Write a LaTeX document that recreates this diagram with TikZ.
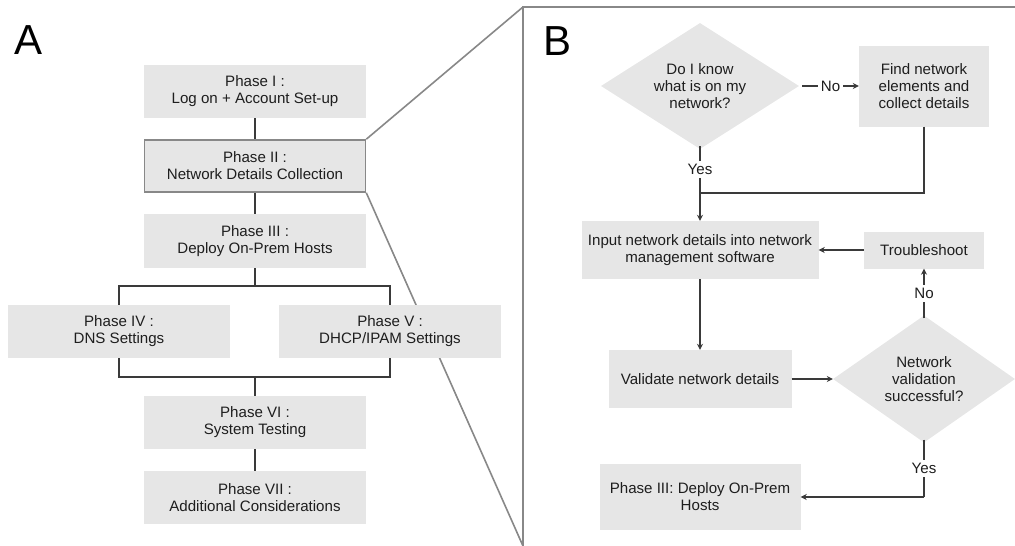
\documentclass[tikz,border=0pt]{standalone}
\usepackage{fontspec}
\setmainfont{Liberation Sans}
\usetikzlibrary{shapes.geometric,arrows.meta}
\pgfdeclarelayer{bg}
\pgfsetlayers{bg,main}
\definecolor{boxfill}{HTML}{E6E6E6}
\definecolor{linec}{HTML}{3A3A3A}
\definecolor{zoomc}{HTML}{888888}
\definecolor{txt}{HTML}{1E1E1E}
\tikzset{
  every node/.style={text=txt,font=\fontsize{15.1}{17}\selectfont},
  phbox/.style={rectangle,fill=boxfill,inner sep=0pt,align=center},
  dia/.style={diamond,aspect=1.57,fill=boxfill,inner sep=0pt,align=center},
  conn/.style={draw=linec,line width=1.5pt},
  arr/.style={draw=linec,line width=1.5pt,-{Stealth[length=6pt,width=6pt]}},
  lab/.style={fill=white,inner sep=3pt},
  zoomline/.style={draw=zoomc,line width=1.6pt},
  panel/.style={font=\fontsize{42}{42}\selectfont,text=black}
}
\begin{document}
\begin{tikzpicture}[x=1pt,y=-1pt]
\useasboundingbox (0,0) rectangle (1015,546);
% Panel A
\node[panel] (labA) at (29,40) {A};
\node[phbox,minimum width=222,minimum height=53] (p1) at (255,91.5) {Phase I :\\Log on + Account Set-up};
\node[phbox,minimum width=221,minimum height=52,draw=zoomc,line width=1.6pt] (p2) at (255,166) {Phase II :\\Network Details Collection};
\node[phbox,minimum width=222,minimum height=54] (p3) at (255,241) {Phase III :\\Deploy On-Prem Hosts};
\node[phbox,minimum width=222,minimum height=53] (p4) at (119,331.5) {Phase IV :\\DNS Settings};
\node[phbox,minimum width=222,minimum height=53] (p5) at (390,331.5) {Phase V :\\DHCP/IPAM Settings};
\node[phbox,minimum width=222,minimum height=53] (p6) at (255,422.5) {Phase VI :\\System Testing};
\node[phbox,minimum width=222,minimum height=53] (p7) at (255,497.5) {Phase VII :\\Additional Considerations};
\coordinate (j1) at (255,286);
\coordinate (j2) at (255,377);
\draw[conn] (p1) -- (p2);
\draw[conn] (p2) -- (p3);
\draw[conn] (p3) -- (j1);
\draw[conn] (p4.north) |- (j1) -| (p5.north);
\draw[conn] (p4.south) |- (j2) -| (p5.south);
\draw[conn] (j2) -- (p6.north);
\draw[conn] (p6) -- (p7);
% Panel B frame and zoom lines
\coordinate (bTL) at (523,7);
\coordinate (bBL) at (523,546);
\coordinate (bTR) at (1015,7);
\begin{pgfonlayer}{bg}
\draw[zoomline] (bBL) -- (bTL) -- (bTR);
\draw[zoomline] (p2.north east) -- (bTL);
\draw[zoomline] (p2.south east) -- (bBL);
\end{pgfonlayer}
% Panel B
\node[panel] (labB) at (558,41.5) {B};
\node[dia,minimum width=198,minimum height=126] (d1) at (700,86) {Do I know\\what is on my\\network?};
\node[phbox,minimum width=130,minimum height=81] (find) at (924,86) {Find network\\elements and\\collect details};
\node[phbox,minimum width=237,minimum height=58] (input) at (700,250) {Input network details into network\\management software};
\node[phbox,minimum width=120,minimum height=37] (trouble) at (924,250) {Troubleshoot};
\node[phbox,minimum width=183,minimum height=58] (valid) at (700,379) {Validate network details};
\node[dia,minimum width=182,minimum height=127] (d2) at (924,379) {Network\\validation\\successful?};
\node[phbox,minimum width=201,minimum height=66] (p3b) at (700,497) {Phase III: Deploy On-Prem\\Hosts};
\coordinate (jy) at (700,193);
\draw[arr] ([xshift=3pt]d1.east) -- node[lab]{No} (find.west);
\draw[conn] ([yshift=3pt]d1.south) -- node[lab]{Yes} (jy);
\draw[conn] (find.south) |- (jy);
\draw[arr] (jy) -- (input.north);
\draw[arr] (trouble.west) -- (input.east);
\draw[arr] (input.south) -- (valid.north);
\draw[arr] (valid.east) -- (d2.west);
\draw[arr] ([yshift=-3pt]d2.north) -- node[lab]{No} (trouble.south);
\coordinate (jc) at (d2.south |- p3b.east);
\draw[conn] ([yshift=3pt]d2.south) -- node[lab]{Yes} (jc);
\draw[arr] (jc) -- (p3b.east);
\end{tikzpicture}
\end{document}
